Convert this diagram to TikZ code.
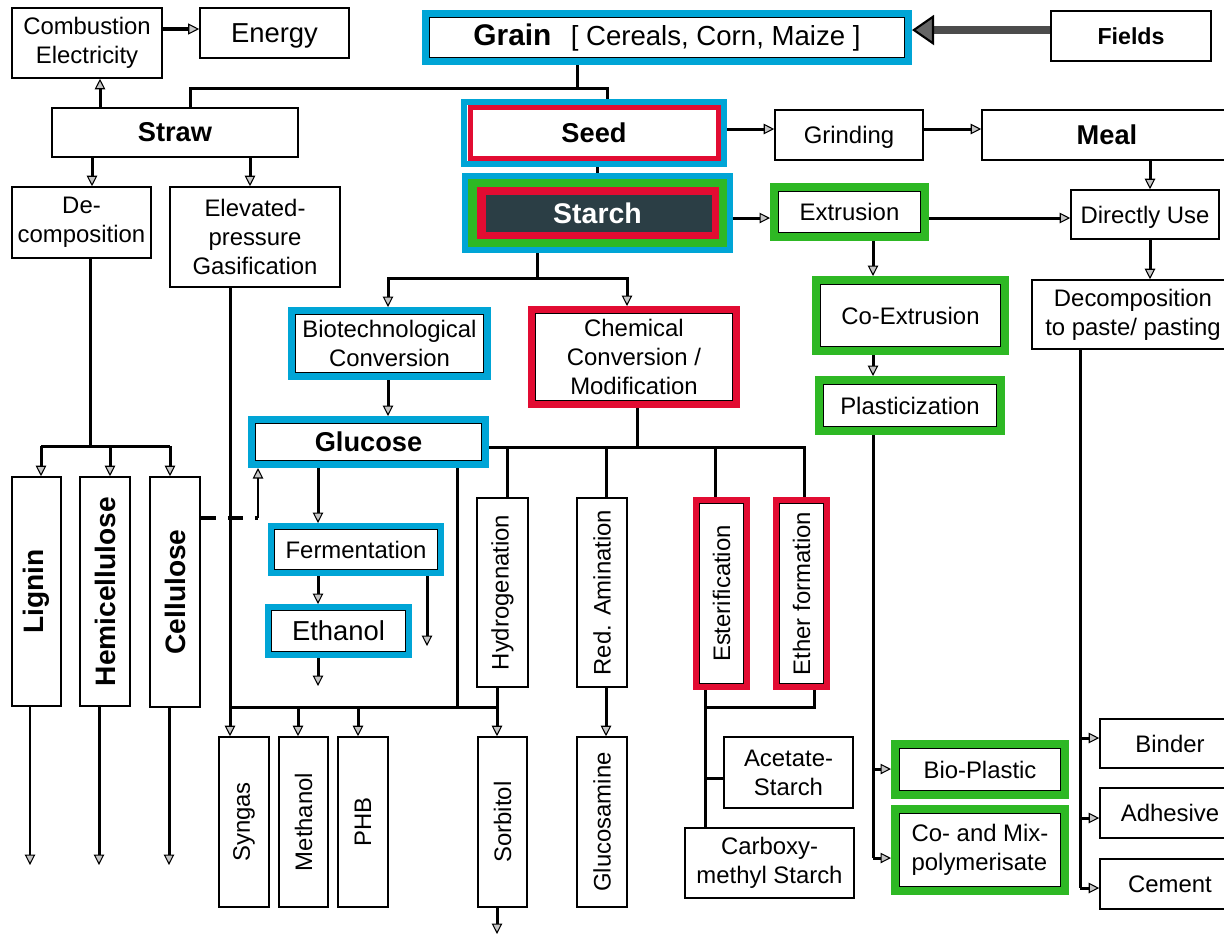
\documentclass[tikz,border=0pt]{standalone}
\usepackage{fontspec}
\setmainfont{Liberation Sans}
\usepackage{graphicx}
\usetikzlibrary{arrows.meta,calc}

\definecolor{cblue}{RGB}{0,165,214}
\definecolor{cgreen}{RGB}{46,184,36}
\definecolor{cred}{RGB}{226,12,50}
\definecolor{cdark}{RGB}{43,62,69}

\tikzset{
  boxst/.style={draw=black, line width=0.9pt, fill=white, inner sep=0pt, align=center},
  reg/.style={font=\fontsize{13.6}{16.6}\selectfont},
  big/.style={font=\fontsize{15.6}{18}\selectfont},
  bld/.style={font=\bfseries\fontsize{15.5}{18}\selectfont},
  bldsm/.style={font=\bfseries\fontsize{13.2}{16}\selectfont},
  bldl/.style={font=\bfseries\fontsize{16}{19}\selectfont},
  ln/.style={line width=0.06cm},
  arr/.style={-{Triangle[length=0.21cm,width=0.21cm,fill=gray!45,line width=0.6pt]}},
}

% plain box given by its corners (x1,y1)-(x2,y2) in pixel units
\newcommand\bx[7]{%
  \node[boxst, #6, minimum width={(#4-#2)*0.02cm}, minimum height={(#5-#3)*0.02cm}]
    (#1) at ({(#2+#4)/2},{(#3+#5)/2}) {#7};}

% box with a thick coloured frame (outer corners, colour, frame width)
\newcommand\cbx[9]{%
  \node[boxst, #8, draw=#6, line width=#7*0.02cm,
    minimum width={(#4-#2-#7)*0.02cm}, minimum height={(#5-#3-#7)*0.02cm},
    path picture={\draw[black,line width=0.5pt]
      ([shift={(#7/2+0.6,-#7/2-0.6)}]path picture bounding box.south west) rectangle
      ([shift={(-#7/2-0.6,#7/2+0.6)}]path picture bounding box.north east);}]
    (#1) at ({(#2+#4)/2},{(#3+#5)/2}) {#9};}

\begin{document}
\begin{tikzpicture}[x=0.02cm,y=-0.02cm]
\useasboundingbox (0,0) rectangle (1224,938);
\fill[white] (0,0) rectangle (1224,938);
\clip (0,0) rectangle (1224,938);

% ---------- top row ----------
\bx{comb}{12}{8}{162}{78}{reg}{Combustion\\Electricity}
\bx{energy}{200}{8}{349}{58}{big, text depth=0pt}{Energy}
\cbx{grain}{422}{10}{912}{65}{cblue}{7}{}{{\bfseries\fontsize{17}{20}\selectfont Grain}\hspace{11pt}{\fontsize{15.7}{19}\selectfont [ Cereals, Corn, Maize ]}}
\bx{fields}{1051}{11}{1211}{61}{bldsm}{Fields}

% ---------- second row ----------
\bx{straw}{52}{108}{298}{157}{bld}{Straw}
\node[boxst, bld, draw=cblue, line width=6*0.02cm,
  minimum width={(727-461-6)*0.02cm}, minimum height={(167-99-6)*0.02cm},
  path picture={\draw[cred, line width=5*0.02cm]
    ([shift={(6.5,-5.5)}]path picture bounding box.south west) rectangle
    ([shift={(-5.5,5.5)}]path picture bounding box.north east);}]
  (seed) at (594,133) {Seed};
\bx{grind}{775}{110}{923}{160}{reg, text depth=0pt}{Grinding}
\bx{meal}{982}{110}{1232}{160}{bld}{Meal}

% ---------- starch row ----------
\node[boxst, draw=cblue, line width=6*0.02cm, text=white,
  font=\bfseries\fontsize{16.2}{19}\selectfont,
  minimum width={(733-462-6)*0.02cm}, minimum height={(253-173-6)*0.02cm},
  path picture={
    \fill[cgreen] ([shift={(3,-3)}]path picture bounding box.south west) rectangle
                  ([shift={(-3,3)}]path picture bounding box.north east);
    \fill[cred]   ([shift={(12,-11)}]path picture bounding box.south west) rectangle
                  ([shift={(-11,11)}]path picture bounding box.north east);
    \fill[cdark]  ([shift={(21,-18)}]path picture bounding box.south west) rectangle
                  ([shift={(-18,19)}]path picture bounding box.north east);}]
  (starch) at (597.5,213) {Starch};
\cbx{extr}{770}{183}{929}{241}{cgreen}{8}{reg}{Extrusion}
\bx{direct}{1071}{190}{1219}{239}{reg, text depth=0pt}{Directly Use}
\bx{decomp}{12}{187}{151}{258}{reg}{De-\\composition}
\bx{elev}{170}{187}{340}{287}{reg}{Elevated-\\pressure\\Gasification}

% ---------- conversions ----------
\cbx{coext}{812}{276}{1009}{355}{cgreen}{8}{reg}{Co-Extrusion}
\bx{paste}{1032}{280}{1234}{349}{reg}{Decomposition\\to paste/ pasting}
\cbx{biotech}{288}{307}{491}{380}{cblue}{7}{reg}{Biotechnological\\Conversion}
\cbx{chem}{528}{306}{740}{408}{cred}{7}{reg}{Chemical\\Conversion /\\Modification}
\cbx{plast}{815}{376}{1005}{435}{cgreen}{8}{reg}{Plasticization}
\cbx{glucose}{248}{416}{489}{468}{cblue}{7}{bld}{Glucose}

% ---------- straw fractions ----------
\bx{lignin}{12}{477}{61}{706}{bldl}{\rotatebox{90}{Lignin}}
\bx{hemi}{80}{477}{130}{706}{bldl}{\rotatebox{90}{Hemicellulose}}
\bx{cellu}{150}{477}{200}{707}{bldl}{\rotatebox{90}{Cellulose}}

% ---------- glucose and chemical routes ----------
\bx{hydro}{477}{498}{528}{687}{reg}{\rotatebox{90}{Hydrogenation}}
\bx{amin}{577}{498}{627}{687}{reg}{\rotatebox{90}{Red. Amination}}
\cbx{ester}{693}{497}{750}{690}{cred}{6}{reg}{\rotatebox{90}{Esterification}}
\cbx{ether}{773}{497}{830}{690}{cred}{6}{reg}{\rotatebox{90}{Ether formation}}
\cbx{ferm}{268}{523}{444}{576}{cblue}{6}{reg}{Fermentation}
\cbx{ethanol}{265}{604}{412}{658}{cblue}{6}{big}{Ethanol}

% ---------- products ----------
\bx{syngas}{219}{737}{269}{907}{reg}{\rotatebox{90}{Syngas}}
\bx{methanol}{279}{737}{328}{907}{reg}{\rotatebox{90}{Methanol}}
\bx{phb}{338}{737}{388}{907}{reg}{\rotatebox{90}{PHB}}
\bx{sorbitol}{478}{737}{527}{907}{reg}{\rotatebox{90}{Sorbitol}}
\bx{glucosamine}{577}{737}{627}{907}{reg}{\rotatebox{90}{Glucosamine}}
\bx{acetate}{724}{737}{853}{808}{reg}{Acetate-\\Starch}
\bx{carboxy}{685}{828}{854}{898}{reg}{Carboxy-\\methyl Starch}
\cbx{bioplast}{891}{740}{1069}{799}{cgreen}{8}{reg}{Bio-Plastic}
\cbx{comix}{891}{805}{1069}{895}{cgreen}{8}{reg, align=left}{Co- and Mix-\\polymerisate}
\bx{binder}{1100}{719}{1240}{768}{reg}{Binder}
\bx{adhes}{1100}{788}{1240}{838}{reg}{Adhesive}
\bx{cement}{1100}{859}{1240}{909}{reg}{Cement}

% ---------- junction points ----------
\coordinate (ce) at (0,29);
\coordinate (fg) at (0,30);
\coordinate (g0) at (577,88);
\coordinate (g1) at (190,88);
\coordinate (g2) at (607,88);
\coordinate (cx) at (100,90);
\coordinate (sx1) at (92,172);
\coordinate (sx2) at (250,172);
\coordinate (r1) at (0,129);
\coordinate (r2) at (0,218);
\coordinate (ss) at (597,170);
\coordinate (mx) at (1150,0);
\coordinate (ex) at (873,0);
\coordinate (sb0) at (537,278);
\coordinate (sb1) at (388,278);
\coordinate (sb2) at (627,278);
\coordinate (fx) at (318,0);
\coordinate (ethend) at (318,686);
\coordinate (fside) at (427,646);
\coordinate (cb0) at (637,447);
\coordinate (cb1) at (507,447);
\coordinate (cb2) at (606,447);
\coordinate (cb3) at (715,447);
\coordinate (cb4) at (804,447);
\coordinate (bb0) at (230,707);
\coordinate (bb1) at (298,707);
\coordinate (bb2) at (358,707);
\coordinate (bb3) at (457,707);
\coordinate (bb4) at (497,707);
\coordinate (sorbend) at (497,934);
\coordinate (lb0) at (90,446);
\coordinate (lb1) at (41,446);
\coordinate (lb2) at (110,446);
\coordinate (lb3) at (170,446);
\coordinate (le1) at (30,865);
\coordinate (le2) at (99,865);
\coordinate (le3) at (169,865);
\coordinate (cd) at (258,518);
\coordinate (eb0) at (705,707);
\coordinate (eb1) at (814,707);
\coordinate (eb2) at (705,778);
\coordinate (pj1) at (873,769);
\coordinate (pj2) at (873,858);
\coordinate (dj1) at (1080,738);
\coordinate (dj2) at (1080,818);
\coordinate (dj3) at (1080,888);

% ---------- connectors ----------
\draw[line width=0.08cm, -{Triangle[length=0.22cm,width=0.22cm,fill=gray!45,line width=0.6pt]}]
  (comb.east |- ce) -- (energy.west |- ce);
\draw[line width=0.16cm, draw=black!70,
  -{Triangle[length=0.44cm,width=0.6cm,color=black,fill=black!60,line width=1.2pt]}]
  (fields.west |- fg) -- (grain.east |- fg);

\draw[ln] (grain.south -| g0) -- (g0);
\draw[ln] (straw.north -| g1) -- (g1) -- (g2) -- (seed.north -| g2);
\draw[ln,arr] (straw.north -| cx) -- (comb.south -| cx);
\draw[ln,arr] (straw.south -| sx1) -- (decomp.north -| sx1);
\draw[ln,arr] (straw.south -| sx2) -- (elev.north -| sx2);

\draw[ln,arr] (seed.east |- r1) -- (grind.west |- r1);
\draw[ln,arr] (grind.east |- r1) -- (meal.west |- r1);
\draw[ln] (seed.south -| ss) -- (starch.north -| ss);
\draw[ln,arr] (starch.east |- r2) -- (extr.west |- r2);
\draw[ln,arr] (extr.east |- r2) -- (direct.west |- r2);
\draw[ln,arr] (meal.south -| mx) -- (direct.north -| mx);
\draw[ln,arr] (direct.south -| mx) -- (paste.north -| mx);
\draw[ln,arr] (extr.south -| ex) -- (coext.north -| ex);
\draw[ln,arr] (coext.south -| ex) -- (plast.north -| ex);

\draw[ln] (plast.south -| pj1) -- (pj2);
\draw[ln,arr] (pj1) -- (bioplast.west |- pj1);
\draw[ln,arr] (pj2) -- (comix.west |- pj2);

\draw[ln] (paste.south -| dj1) -- (dj3);
\draw[ln,arr] (dj1) -- (binder.west |- dj1);
\draw[ln,arr] (dj2) -- (adhes.west |- dj2);
\draw[ln,arr] (dj3) -- (cement.west |- dj3);

\draw[ln] (starch.south -| sb0) -- (sb0);
\draw[ln,arr] (sb0) -- (sb1) -- (biotech.north -| sb1);
\draw[ln,arr] (sb0) -- (sb2) -- (chem.north -| sb2);
\draw[ln,arr] (biotech.south -| sb1) -- (glucose.north -| sb1);

\draw[ln,arr] (glucose.south -| fx) -- (ferm.north -| fx);
\draw[ln,arr] (ferm.south -| fx) -- (ethanol.north -| fx);
\draw[ln,arr] (ethanol.south -| fx) -- (ethend);
\draw[ln,arr] (ferm.south -| fside) -- (fside);

\draw[ln] (chem.south -| cb0) -- (cb0);
\draw[ln] (glucose.east |- cb0) -- (cb4) -- (ether.north -| cb4);
\draw[ln] (cb1) -- (hydro.north -| cb1);
\draw[ln] (cb2) -- (amin.north -| cb2);
\draw[ln] (cb3) -- (ester.north -| cb3);

\draw[ln,arr] (elev.south -| bb0) -- (syngas.north -| bb0);
\draw[ln] (bb0) -- (bb4);
\draw[ln] (glucose.south -| bb3) -- (bb3);
\draw[ln,arr] (bb1) -- (methanol.north -| bb1);
\draw[ln,arr] (bb2) -- (phb.north -| bb2);
\draw[ln,arr] (hydro.south -| bb4) -- (sorbitol.north -| bb4);
\draw[ln,arr] (sorbitol.south -| bb4) -- (sorbend);
\draw[ln,arr] (amin.south -| cb2) -- (glucosamine.north -| cb2);

\draw[ln] (ester.south -| eb0) -- (carboxy.north -| eb0);
\draw[ln] (ether.south -| eb1) -- (eb1) -- (eb0);
\draw[ln] (eb2) -- (acetate.west |- eb2);

\draw[ln] (decomp.south -| lb0) -- (lb0);
\draw[ln] (lb1) -- (lb3);
\draw[ln,arr] (lb1) -- (lignin.north -| lb1);
\draw[ln,arr] (lb2) -- (hemi.north -| lb2);
\draw[ln,arr] (lb3) -- (cellu.north -| lb3);
\draw[ln,arr] (lignin.south -| le1) -- (le1);
\draw[ln,arr] (hemi.south -| le2) -- (le2);
\draw[ln,arr] (cellu.south -| le3) -- (le3);

\draw[line width=0.08cm, dash pattern=on 0.3cm off 0.24cm] (cellu.east |- cd) -- (cd);
\draw[line width=0.045cm, arr] (cd) -- (glucose.south -| cd);
\end{tikzpicture}
\end{document}
